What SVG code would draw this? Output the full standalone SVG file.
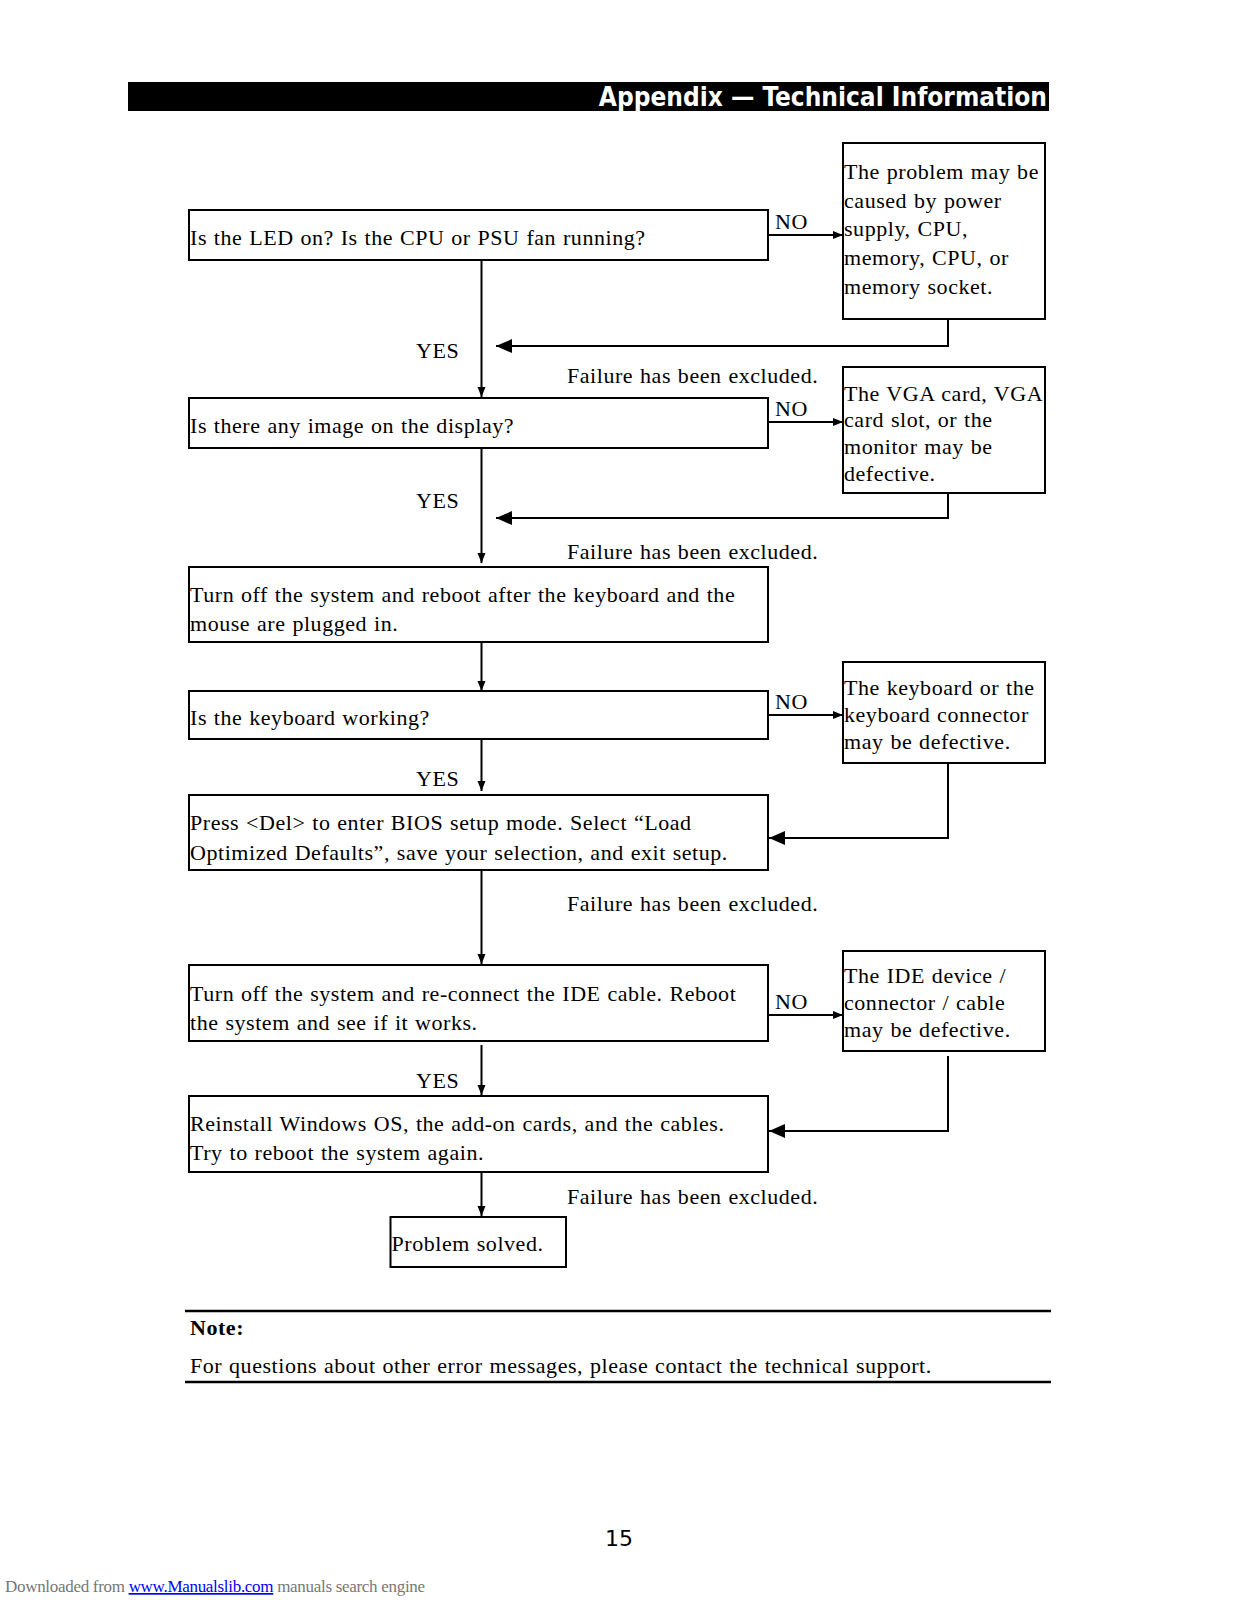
<svg xmlns="http://www.w3.org/2000/svg" width="1237" height="1600" viewBox="0 0 1237 1600">
<defs>
<style>
.box{fill:#fff;stroke:#000;stroke-width:2}
.t{font-family:"Liberation Serif","Times New Roman",serif;font-size:22px;fill:#000;letter-spacing:0.55px;word-spacing:0.8px}
.c{fill:none;stroke:#000;stroke-width:2}
.hdr{font-family:"DejaVu Sans Condensed","DejaVu Sans",sans-serif;font-stretch:condensed;font-weight:bold;font-size:26px;fill:#fff}
</style>
<marker id="sa" markerUnits="userSpaceOnUse" markerWidth="10" markerHeight="10" refX="10" refY="5" orient="auto"><path d="M0,1 L10,5 L0,9 z" fill="#000"/></marker>
<marker id="ba" markerUnits="userSpaceOnUse" markerWidth="16" markerHeight="14" refX="16" refY="7" orient="auto"><path d="M0,0 L16,7 L0,14 z" fill="#000"/></marker>
</defs>
<rect x="0" y="0" width="1237" height="1600" fill="#fff"/>
<g id="header">
<rect x="128" y="82" width="921" height="29" fill="#000"/>
<text class="hdr" x="1047" y="106" text-anchor="end">Appendix — Technical Information</text>
</g>
<g id="connectors">
<line class="c" x1="768" y1="235" x2="843" y2="235" marker-end="url(#sa)"/>
<polyline class="c" points="948,319 948,346 496,346" marker-end="url(#ba)"/>
<line class="c" x1="481.5" y1="260" x2="481.5" y2="397" marker-end="url(#sa)"/>
<line class="c" x1="768" y1="422" x2="843" y2="422" marker-end="url(#sa)"/>
<polyline class="c" points="948,493 948,518 496,518" marker-end="url(#ba)"/>
<line class="c" x1="481.5" y1="448" x2="481.5" y2="563" marker-end="url(#sa)"/>
<line class="c" x1="481.5" y1="642" x2="481.5" y2="691" marker-end="url(#sa)"/>
<line class="c" x1="768" y1="715" x2="843" y2="715" marker-end="url(#sa)"/>
<polyline class="c" points="948,763 948,838 769,838" marker-end="url(#ba)"/>
<line class="c" x1="481.5" y1="739" x2="481.5" y2="791" marker-end="url(#sa)"/>
<line class="c" x1="481.5" y1="870" x2="481.5" y2="964" marker-end="url(#sa)"/>
<line class="c" x1="768" y1="1015" x2="843" y2="1015" marker-end="url(#sa)"/>
<polyline class="c" points="948,1056 948,1131 769,1131" marker-end="url(#ba)"/>
<line class="c" x1="481.5" y1="1045" x2="481.5" y2="1095" marker-end="url(#sa)"/>
<line class="c" x1="481.5" y1="1172" x2="481.5" y2="1216" marker-end="url(#sa)"/>
</g>
<g id="labels">
<text class="t" x="775" y="229">NO</text>
<text class="t" x="416" y="358">YES</text>
<text class="t" x="567" y="383">Failure has been excluded.</text>
<text class="t" x="775" y="416">NO</text>
<text class="t" x="416" y="508">YES</text>
<text class="t" x="567" y="559">Failure has been excluded.</text>
<text class="t" x="775" y="709">NO</text>
<text class="t" x="416" y="786">YES</text>
<text class="t" x="567" y="911">Failure has been excluded.</text>
<text class="t" x="775" y="1009">NO</text>
<text class="t" x="416" y="1088">YES</text>
<text class="t" x="567" y="1204">Failure has been excluded.</text>
</g>
<g id="n1"><rect class="box" x="189" y="210" width="579" height="50"/><text class="t" x="190" y="245">Is the LED on? Is the CPU or PSU fan running?</text></g>
<g id="n1no"><rect class="box" x="843" y="143" width="202" height="176"/>
<text class="t" x="844" y="179">The problem may be</text>
<text class="t" x="844" y="208">caused by power</text>
<text class="t" x="844" y="236">supply, CPU,</text>
<text class="t" x="844" y="265">memory, CPU, or</text>
<text class="t" x="844" y="294">memory socket.</text></g>
<g id="n2"><rect class="box" x="189" y="398" width="579" height="50"/><text class="t" x="190" y="433">Is there any image on the display?</text></g>
<g id="n2no"><rect class="box" x="843" y="367" width="202" height="126"/>
<text class="t" x="844" y="401">The VGA card, VGA</text>
<text class="t" x="844" y="427">card slot, or the</text>
<text class="t" x="844" y="454">monitor may be</text>
<text class="t" x="844" y="481">defective.</text></g>
<g id="n3"><rect class="box" x="189" y="567" width="579" height="75"/>
<text class="t" x="190" y="602">Turn off the system and reboot after the keyboard and the</text>
<text class="t" x="190" y="631">mouse are plugged in.</text></g>
<g id="n4"><rect class="box" x="189" y="691" width="579" height="48"/><text class="t" x="190" y="725">Is the keyboard working?</text></g>
<g id="n4no"><rect class="box" x="843" y="662" width="202" height="101"/>
<text class="t" x="844" y="695">The keyboard or the</text>
<text class="t" x="844" y="722">keyboard connector</text>
<text class="t" x="844" y="749">may be defective.</text></g>
<g id="n5"><rect class="box" x="189" y="795" width="579" height="75"/>
<text class="t" x="190" y="830">Press &lt;Del&gt; to enter BIOS setup mode. Select “Load</text>
<text class="t" x="190" y="860">Optimized Defaults”, save your selection, and exit setup.</text></g>
<g id="n6"><rect class="box" x="189" y="965" width="579" height="76"/>
<text class="t" x="190" y="1001">Turn off the system and re-connect the IDE cable. Reboot</text>
<text class="t" x="190" y="1030">the system and see if it works.</text></g>
<g id="n6no"><rect class="box" x="843" y="951" width="202" height="100"/>
<text class="t" x="844" y="983">The IDE device /</text>
<text class="t" x="844" y="1010">connector / cable</text>
<text class="t" x="844" y="1037">may be defective.</text></g>
<g id="n7"><rect class="box" x="189" y="1096" width="579" height="76"/>
<text class="t" x="190" y="1131">Reinstall Windows OS, the add-on cards, and the cables.</text>
<text class="t" x="190" y="1160">Try to reboot the system again.</text></g>
<g id="n8"><rect class="box" x="390.5" y="1217" width="175.5" height="50"/><text class="t" x="391.5" y="1251">Problem solved.</text></g>
<g id="note">
<line x1="185" y1="1311" x2="1051" y2="1311" stroke="#000" stroke-width="2.5"/>
<text class="t" x="190" y="1335" font-weight="bold">Note:</text>
<text class="t" x="190" y="1373">For questions about other error messages, please contact the technical support.</text>
<line x1="185" y1="1382" x2="1051" y2="1382" stroke="#000" stroke-width="2.5"/>
</g>
<text x="619" y="1546" text-anchor="middle" font-family="'DejaVu Sans',sans-serif" font-size="22" fill="#000">15</text>
<text x="5" y="1592" font-family="'Liberation Serif',serif" font-size="17" fill="#777" letter-spacing="-0.3">Downloaded from <tspan fill="#00f" text-decoration="underline">www.Manualslib.com</tspan> manuals search engine</text>
</svg>
